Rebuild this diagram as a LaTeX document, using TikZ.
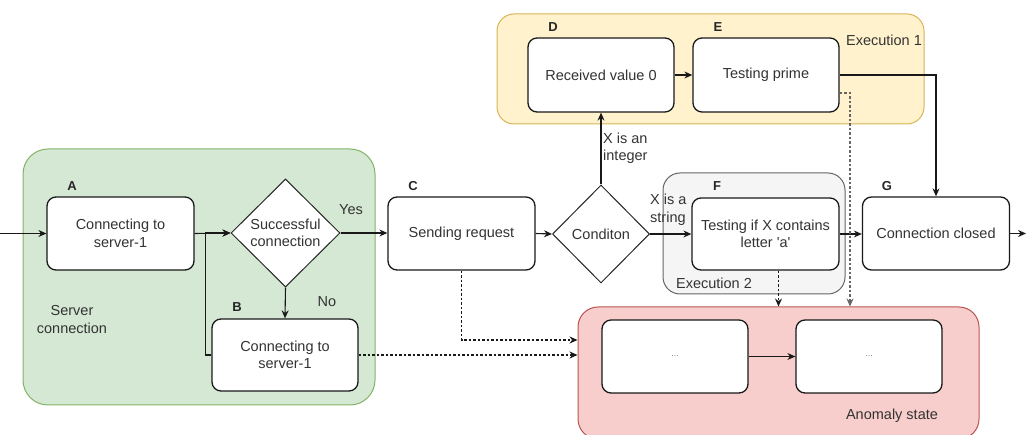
\documentclass[tikz,border=0pt]{standalone}
\usepackage{fontspec}
\setmainfont{Liberation Sans}[Ligatures=TeXOff]
\usetikzlibrary{shapes.geometric,arrows.meta,calc}

\definecolor{txt}{HTML}{333333}
\definecolor{greenfill}{HTML}{D5E8D4}
\definecolor{greenline}{HTML}{82B366}
\definecolor{yellowfill}{HTML}{FFF2CC}
\definecolor{yellowline}{HTML}{D6B656}
\definecolor{grayfill}{HTML}{F5F5F5}
\definecolor{grayline}{HTML}{666666}
\definecolor{redfill}{HTML}{F8CECC}
\definecolor{redline}{HTML}{B85450}

\tikzset{
  every node/.style={font=\fontsize{14.5}{17.5}\selectfont, text=txt},
  stepbox/.style={draw=black!90, line width=1.3pt, rounded corners=9pt, fill=white,
    minimum width=147pt, minimum height=73pt, align=center, inner sep=2pt},
  decision/.style={draw=black!85, line width=1pt, diamond, fill=white,
    inner sep=0pt, align=center},
  group/.style={rectangle, line width=1pt, inner sep=0pt},
  tag/.style={font=\fontsize{13}{15}\selectfont\bfseries, text=black!85},
  note/.style={align=left, anchor=west, inner sep=0pt},
  flow/.style={line width=1.1pt, draw=black!90, -{Stealth[length=8pt,width=7pt]}},
  hint/.style={flow, dash pattern=on 2.5pt off 2pt},
  hintgray/.style={hint, draw=black!60},
  dots/.style={font=\fontsize{9}{10}\selectfont, text=black!50},
}

\begin{document}
\begin{tikzpicture}[x=1pt, y=-1pt]
\clip (0,0) rectangle (1026,435);

% ---- group containers ----
\node[group, draw=greenline, fill=greenfill, rounded corners=25pt,
      minimum width=352pt, minimum height=256pt] (srv) at (199,277) {};
\node[group, draw=yellowline, fill=yellowfill, rounded corners=17pt,
      minimum width=427pt, minimum height=110pt] (ex1) at (710.5,69) {};
\node[group, draw=grayline, fill=grayfill, rounded corners=17pt,
      minimum width=182pt, minimum height=121pt] (ex2) at (754,233.5) {};
\node[group, draw=redline, fill=redfill, rounded corners=20pt,
      minimum width=401pt, minimum height=132pt] (anom) at (778.5,373) {};

\node (srvlbl) at (72,319.5) [align=center] {Server\\connection};
\node (ex1lbl) at (884,40) {Execution 1};
\node (ex2lbl) at (714,283) {Execution 2};
\node (anlbl) at (892,416) {Anomaly state};

% ---- steps ----
\node[stepbox] (A) at (120.5,233.5) {Connecting to\\server-1};
\node[decision, minimum width=109pt, minimum height=108pt] (S) at (285.5,233) {Successful\\connection};
\node[stepbox, minimum width=146pt, minimum height=72pt] (B) at (285,355) {Connecting to\\server-1};
\node[stepbox] (C) at (461.5,233.5) {Sending request};
\node[decision, minimum width=97pt, minimum height=98pt] (K) at (601,234) {Conditon};
\node[stepbox, minimum width=146pt, minimum height=74pt] (D) at (601,75) {Received value 0};
\node[stepbox, minimum width=146pt, minimum height=74pt] (E) at (766,75) {Testing prime};
\node[stepbox, minimum height=72pt] (F) at (765.5,234) {Testing if X contains\\letter 'a'};
\node[stepbox] (G) at (936,233.5) {Connection closed};
\node[stepbox, minimum width=146pt] (P) at (675,356.5) {\textcolor{black!50}{\fontsize{9}{10}\selectfont...}};
\node[stepbox, minimum width=146pt] (Q) at (869,356.5) {\textcolor{black!50}{\fontsize{9}{10}\selectfont...}};

% ---- letter tags ----
\node[tag] (tA) at (72,186) {A};
\node[tag] (tB) at (237,307) {B};
\node[tag] (tC) at (413,186) {C};
\node[tag] (tD) at (553,27) {D};
\node[tag] (tE) at (718,27) {E};
\node[tag] (tF) at (717,186) {F};
\node[tag] (tG) at (887,186) {G};

% ---- connectors ----
\coordinate (start) at (0,233.5);
\coordinate (finish) at (1026,233.5);
\draw[flow] (start) -- (A.west);
\draw[flow] (A.east) -- (S.west);
\draw[flow] (S.south) -- (B.north);
\draw[flow] (B.west) -- ++(-6,0) |- (S.west);
\draw[flow] (S.east) -- (S.east -| C.west);
\draw[flow] (C.east) -- (K.west);
\draw[flow] (K.north) -- (D.south);
\draw[flow] (D.east) -- (E.east -| E.west);
\draw[flow] (K.east) -- (K.east -| F.west);
\draw[flow] (F.east) -- (F.east -| G.west);
\draw[flow] (E.east) -| (G.north);
\draw[flow] (G.east) -- (finish);
\draw[flow] (P.east) -- (Q.west);

\draw[hint] (B.east) -- (B.east -| anom.west);
\draw[hint] (C.south) |- ([yshift=15pt]B.east -| anom.west);
\draw[hint] (F.south -| anom.north) -- (anom.north);
\draw[hintgray] ([yshift=-18pt]E.east) -| ([xshift=71.5pt]anom.north);

% ---- branch labels ----
\node (yes) at (351,210) {Yes};
\node (no) at (327,302) {No};
\node[note] (intlbl) at (603,148.5) {X is an\\integer};
\node[note] (strlbl) at (650,210) {X is a\\string};
\end{tikzpicture}
\end{document}
